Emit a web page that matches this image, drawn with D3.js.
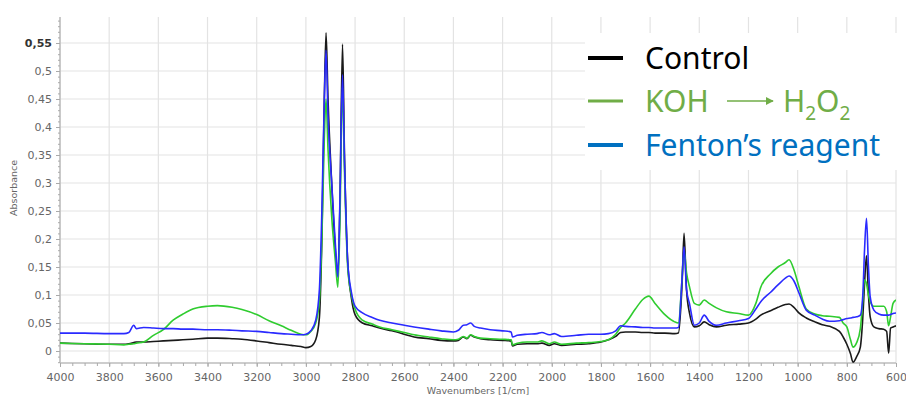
<!DOCTYPE html>
<html>
<head>
<meta charset="utf-8">
<script src="https://d3js.org/d3.v7.min.js"></script>
<style>
  body { margin: 0; background: #fff; }
  svg { display: block; }
</style>
</head>
<body>
<div id="viz"></div>
<script>
// wavenumbers (1/cm) shared by every spectrum
var wavenumbers = [4000,3900,3800,3740,3720,3700,3690,3660,3620,3580,3540,3500,3460,3400,3360,3300,3260,3200,3150,3100,3060,3020,3000,2980,2960,2945,2935,2925,2918,2910,2895,2880,2870,2862,2851,2843,2830,2815,2800,2770,2730,2700,2650,2600,2560,2500,2450,2400,2380,2360,2345,2330,2315,2290,2250,2200,2165,2160,2140,2100,2060,2040,2010,1990,1960,1900,1850,1800,1770,1740,1720,1700,1660,1630,1605,1580,1540,1500,1485,1470,1462,1452,1440,1420,1400,1380,1360,1330,1290,1240,1200,1170,1150,1110,1080,1050,1035,1015,995,965,930,900,870,830,815,800,785,775,760,745,735,728,720,712,705,690,670,650,638,630,622,612,600];

var control = [0.014,0.013,0.012,0.012,0.013,0.015,0.016,0.016,0.017,0.018,0.019,0.020,0.021,0.023,0.023,0.022,0.021,0.018,0.015,0.012,0.010,0.008,0.006,0.008,0.020,0.060,0.20,0.45,0.568,0.45,0.30,0.18,0.135,0.25,0.548,0.35,0.16,0.095,0.065,0.050,0.045,0.041,0.036,0.030,0.025,0.022,0.019,0.018,0.019,0.025,0.022,0.028,0.025,0.022,0.020,0.019,0.018,0.009,0.012,0.013,0.013,0.014,0.010,0.013,0.010,0.012,0.013,0.016,0.020,0.026,0.033,0.034,0.034,0.033,0.033,0.032,0.032,0.031,0.032,0.12,0.21,0.11,0.068,0.043,0.045,0.052,0.047,0.043,0.046,0.048,0.050,0.057,0.064,0.072,0.078,0.083,0.084,0.078,0.068,0.059,0.052,0.047,0.044,0.035,0.025,0.012,-0.005,-0.020,-0.010,0.007,0.06,0.12,0.17,0.10,0.061,0.043,0.040,0.039,0.035,-0.004,0.041,0.043,0.045];

var kohH2o2 = [0.014,0.013,0.012,0.011,0.012,0.013,0.014,0.016,0.028,0.038,0.055,0.066,0.075,0.080,0.081,0.078,0.074,0.065,0.054,0.045,0.037,0.030,0.029,0.035,0.050,0.090,0.20,0.38,0.45,0.36,0.24,0.16,0.114,0.22,0.47,0.32,0.15,0.10,0.075,0.055,0.048,0.043,0.038,0.033,0.029,0.025,0.022,0.020,0.021,0.026,0.023,0.029,0.026,0.023,0.022,0.021,0.020,0.011,0.014,0.016,0.016,0.018,0.013,0.016,0.012,0.014,0.015,0.017,0.020,0.030,0.042,0.050,0.075,0.092,0.098,0.085,0.065,0.052,0.050,0.13,0.18,0.14,0.115,0.085,0.082,0.091,0.085,0.077,0.070,0.067,0.064,0.085,0.114,0.138,0.150,0.158,0.163,0.145,0.115,0.075,0.066,0.063,0.062,0.060,0.050,0.043,0.020,0.007,0.015,0.040,0.09,0.127,0.12,0.10,0.088,0.080,0.080,0.080,0.070,0.045,0.061,0.085,0.091];

var fenton = [0.032,0.032,0.031,0.031,0.033,0.046,0.040,0.042,0.041,0.040,0.040,0.039,0.039,0.038,0.038,0.037,0.036,0.035,0.033,0.031,0.030,0.029,0.030,0.036,0.055,0.11,0.25,0.45,0.537,0.42,0.30,0.19,0.132,0.26,0.493,0.34,0.16,0.105,0.080,0.068,0.060,0.055,0.050,0.046,0.043,0.039,0.036,0.034,0.037,0.046,0.047,0.050,0.044,0.041,0.038,0.036,0.034,0.025,0.028,0.030,0.031,0.033,0.029,0.031,0.026,0.028,0.030,0.030,0.031,0.036,0.045,0.044,0.043,0.042,0.042,0.041,0.041,0.041,0.042,0.13,0.186,0.11,0.085,0.046,0.050,0.064,0.053,0.046,0.050,0.054,0.058,0.075,0.088,0.105,0.118,0.130,0.134,0.125,0.104,0.073,0.064,0.057,0.053,0.054,0.056,0.058,0.059,0.060,0.061,0.064,0.10,0.18,0.237,0.15,0.097,0.073,0.066,0.064,0.064,0.064,0.065,0.067,0.068];

var xTickLabels = ["4000","3800","3600","3400","3200","3000","2800","2600","2400","2200","2000","1800","1600","1400","1200","1000","800","600"];
var yTickLabels = ["0","0,05","0,1","0,15","0,2","0,25","0,3","0,35","0,4","0,45","0,5","0,55"];

var width = 906, height = 399;
var plotLeft = 60, plotRight = 896, plotTop = 17, plotBottom = 363;

var svg = d3.select("#viz").append("svg")
    .attr("width", width)
    .attr("height", height);

var x = d3.scaleLinear().domain([4000, 600]).range([plotLeft, plotRight]);
var y = d3.scaleLinear().domain([0, 0.55]).range([351, 43]);

var xTicks = xTickLabels.map(Number);
var yTicks = yTickLabels.map(function(s) { return +s.replace(",", "."); });

// grid
var grid = svg.append("g").attr("stroke", "#e3e3e3").attr("stroke-width", 1.2);
grid.selectAll(".vg").data(xTicks).enter().append("line")
    .attr("x1", function(d) { return x(d); }).attr("x2", function(d) { return x(d); })
    .attr("y1", plotTop).attr("y2", plotBottom);
grid.selectAll(".hg").data(yTicks).enter().append("line")
    .attr("x1", plotLeft).attr("x2", plotRight)
    .attr("y1", function(d) { return y(d); }).attr("y2", function(d) { return y(d); });

// axes
var xAxis = d3.axisBottom(x).tickValues(xTicks).tickSize(4).tickFormat(function(d, i) { return xTickLabels[i]; });
var gx = svg.append("g").attr("transform", "translate(0," + plotBottom + ")").call(xAxis);
var xMinor = d3.axisBottom(x).tickValues(d3.range(4000, 599, -50)).tickSize(3).tickFormat("");
svg.append("g").attr("transform", "translate(0," + plotBottom + ")").call(xMinor)
    .select(".domain").remove();

var yAxis = d3.axisLeft(y).tickValues(yTicks).tickSize(4).tickFormat(function(d, i) { return yTickLabels[i]; });
var gy = svg.append("g").attr("transform", "translate(" + plotLeft + ",0)").call(yAxis);
var yMinor = d3.axisLeft(y).tickValues(d3.range(-0.02, 0.6, 0.01)).tickSize(2).tickFormat("");
svg.append("g").attr("transform", "translate(" + plotLeft + ",0)").call(yMinor)
    .select(".domain").remove();

gx.select(".domain").attr("d", "M" + plotLeft + ",0H" + plotRight);
gy.select(".domain").attr("d", "M0," + plotTop + "V" + plotBottom);

svg.selectAll(".domain").attr("stroke", "#bdbdbd").attr("stroke-width", 1.5);
svg.selectAll(".tick line").attr("stroke", "#aaa");
svg.selectAll(".tick text")
    .attr("fill", "#666")
    .style("font-family", "DejaVu Sans, sans-serif")
    .style("font-size", "11px");
gx.selectAll(".tick text").attr("dy", "1em");
gy.selectAll(".tick text").attr("dx", "-1px");
gy.selectAll(".tick text").filter(function(d) { return d === 0.55; })
    .attr("fill", "#333").style("font-weight", "bold");

svg.append("text")
    .attr("x", (plotLeft + plotRight) / 2).attr("y", 394)
    .attr("text-anchor", "middle")
    .attr("fill", "#666")
    .style("font-family", "DejaVu Sans, sans-serif").style("font-size", "9.5px")
    .text("Wavenumbers [1/cm]");

svg.append("text")
    .attr("transform", "translate(17,188) rotate(-90)")
    .attr("text-anchor", "middle")
    .attr("fill", "#666")
    .style("font-family", "DejaVu Sans, sans-serif").style("font-size", "9.5px")
    .text("Absorbance");

// spectra
svg.append("clipPath").attr("id", "plotclip").append("rect")
    .attr("x", plotLeft).attr("y", plotTop)
    .attr("width", plotRight - plotLeft).attr("height", plotBottom - plotTop);

var line = d3.line()
    .x(function(d) { return x(d[0]); })
    .y(function(d) { return y(d[1]); })
    .curve(d3.curveMonotoneX);

var series = [
    { name: "Control", values: control, color: "#1a1a1a" },
    { name: "KOH", values: kohH2o2, color: "#2fcc2f" },
    { name: "Fenton", values: fenton, color: "#2a2aff" }
];

svg.append("g").attr("clip-path", "url(#plotclip)")
  .selectAll("path").data(series).enter().append("path")
    .attr("fill", "none")
    .attr("stroke", function(d) { return d.color; })
    .attr("stroke-width", 1.6)
    .attr("stroke-linejoin", "round")
    .attr("d", function(s) {
        return line(wavenumbers.map(function(w, i) { return [w, s.values[i]]; }));
    });

// legend (white box on top of the grid)
var legend = svg.append("g");
legend.append("rect").attr("x", 585).attr("y", 33).attr("width", 321).attr("height", 137).attr("fill", "#fff");

var legendItems = [
    { label: "Control", color: "#000", swatch: "#000", sw: 4, y: 58 },
    { label: "KOH", color: "#70ad47", swatch: "#70ad47", sw: 3, y: 101 },
    { label: "Fenton\u2019s reagent", color: "#0070c0", swatch: "#0070c0", sw: 4, y: 145 }
];

legendItems.forEach(function(it) {
    legend.append("line")
        .attr("x1", 588).attr("x2", 623)
        .attr("y1", it.y).attr("y2", it.y)
        .attr("stroke", it.swatch).attr("stroke-width", it.sw);
    legend.append("text")
        .attr("x", 645).attr("y", it.y + 11)
        .attr("fill", it.color)
        .style("font-family", "Noto Sans, sans-serif")
        .style("font-size", "30px")
        .text(it.label);
});

// arrow and H2O2 in the second legend entry
legend.append("defs").append("marker")
    .attr("id", "arrowhead").attr("viewBox", "0 0 10 10")
    .attr("refX", 9).attr("refY", 5)
    .attr("markerWidth", 5).attr("markerHeight", 5)
    .attr("orient", "auto")
  .append("path").attr("d", "M0,0L10,5L0,10Z").attr("fill", "#70ad47");
legend.append("line")
    .attr("x1", 727).attr("x2", 773).attr("y1", 101).attr("y2", 101)
    .attr("stroke", "#70ad47").attr("stroke-width", 1.6)
    .attr("marker-end", "url(#arrowhead)");
var h2o2 = legend.append("text")
    .attr("x", 783).attr("y", 112)
    .attr("fill", "#70ad47")
    .style("font-family", "Noto Sans, sans-serif")
    .style("font-size", "30px");
h2o2.append("tspan").text("H");
h2o2.append("tspan").attr("dy", 8).style("font-size", "19px").text("2");
h2o2.append("tspan").attr("dy", -8).text("O");
h2o2.append("tspan").attr("dy", 8).style("font-size", "19px").text("2");
</script>
</body>
</html>
